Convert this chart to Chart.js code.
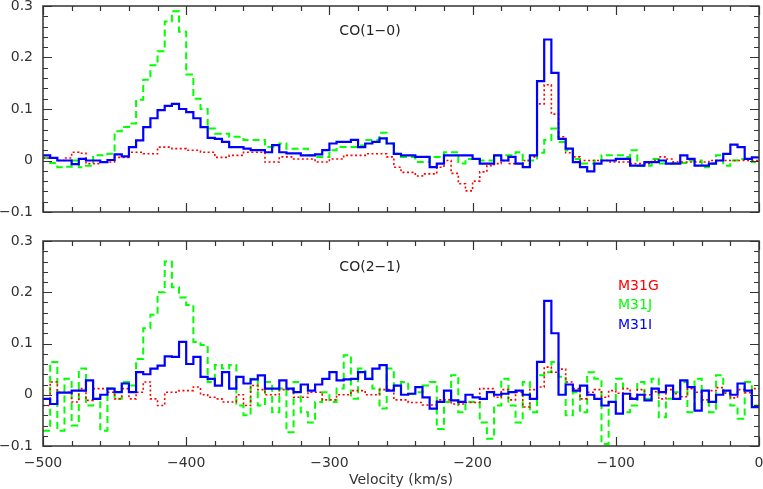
<!DOCTYPE html>
<html>
<head>
<meta charset="utf-8">
<script src="https://cdn.jsdelivr.net/npm/chart.js@4.4.1/dist/chart.umd.min.js"></script>
<style>
  html, body { margin: 0; padding: 0; background: #fff; }
  #wrap { position: relative; width: 763px; height: 489px; }
  canvas { position: absolute; left: 0; }
  #co10 { top: 0; }
  #co21 { top: 225px; }
</style>
</head>
<body>
<div id="wrap">
  <canvas id="co10" width="763" height="225" style="width:763px;height:225px"></canvas>
  <canvas id="co21" width="763" height="264" style="width:763px;height:264px"></canvas>
</div>
<script>
// velocity channels: start of first channel and channel width (km/s)
var channelStart = -500;
var channelWidth = 5;

var seriesNames = ['M31G', 'M31J', 'M31I'];
var seriesColors = ['#ff0000', '#00ff00', '#0000ff'];

var xTickValues = [-500, -400, -300, -200, -100, 0];
var xTickLabels = ['\u2212500', '\u2212400', '\u2212300', '\u2212200', '\u2212100', '0'];
var yTickValues = [-0.1, 0, 0.1, 0.2, 0.3];
var yTickLabels = ['\u22120.1', '0', '0.1', '0.2', '0.3'];

// CO(1-0), K, one value per channel from -500 to -5 km/s
var co10_M31G = [
  0.005, 0.005, 0.0, 0.005, 0.016, 0.014, -0.006, -0.006, -0.003, -0.003,
  0.006, 0.006, 0.016, 0.016, 0.013, 0.013, 0.026, 0.026, 0.023, 0.023,
  0.02, 0.02, 0.016, 0.016, 0.006, 0.006, 0.01, 0.01, 0.016, 0.016,
  0.016, -0.003, -0.003, 0.007, 0.007, 0.003, 0.003, 0.003, -0.003, -0.003,
  0.003, 0.003, 0.01, 0.01, 0.01, 0.013, 0.013, 0.013, 0.007, -0.013,
  -0.023, -0.023, -0.03, -0.026, -0.026, -0.013, 0.0, -0.025, -0.045, -0.059,
  -0.04, -0.022, -0.01, -0.006, 0.0, -0.006, -0.006, 0.0, 0.007, 0.11,
  0.147, 0.09, 0.046, 0.015, 0.007, 0.0, 0.0, 0.0, 0.0, -0.003,
  -0.003, -0.003, -0.006, -0.006, -0.006, 0.0, 0.007, 0.003, -0.003, -0.003,
  -0.003, -0.003, -0.003, 0.0, 0.0, 0.0, 0.0, 0.0, 0.0, 0.0
];
var co10_M31J = [
  0.005, -0.005, -0.013, -0.012, 0.0, -0.013, -0.01, 0.01, 0.01, 0.013,
  0.057, 0.065, 0.072, 0.118, 0.157, 0.185, 0.212, 0.27, 0.29, 0.25,
  0.167, 0.12, 0.10, 0.062, 0.052, 0.052, 0.046, 0.046, 0.04, 0.04,
  0.04, 0.026, 0.026, 0.033, 0.023, 0.023, 0.023, 0.01, 0.007, 0.007,
  0.02, 0.026, 0.026, 0.026, 0.029, 0.04, 0.04, 0.054, 0.033, 0.013,
  0.007, 0.007, -0.003, -0.003, 0.007, 0.007, 0.016, 0.016, -0.006, 0.003,
  0.003, 0.0, 0.0, 0.01, 0.01, 0.01, 0.016, 0.0, 0.0, 0.015,
  0.04, 0.062, 0.036, 0.02, 0.003, -0.006, -0.006, 0.0, 0.01, 0.01,
  0.01, 0.007, 0.02, -0.01, -0.01, 0.003, -0.006, -0.006, -0.005, -0.005,
  0.0, 0.0, -0.013, -0.006, 0.01, -0.01, 0.0, 0.003, 0.003, -0.003
];
var co10_M31I = [
  0.01, 0.005, 0.0, 0.0, -0.007, 0.003, 0.0, 0.0, -0.003, 0.001,
  0.012, 0.008, 0.026, 0.039, 0.065, 0.082, 0.098, 0.106, 0.11, 0.1,
  0.094, 0.082, 0.065, 0.044, 0.042, 0.036, 0.026, 0.026, 0.023, 0.02,
  0.02, 0.016, 0.03, 0.016, 0.014, 0.014, 0.01, 0.01, 0.012, 0.02,
  0.033, 0.036, 0.036, 0.04, 0.026, 0.033, 0.036, 0.043, 0.033, 0.013,
  0.01, 0.01, 0.007, 0.007, -0.013, -0.006, 0.01, 0.01, 0.01, 0.01,
  0.003, -0.006, -0.006, 0.01, 0.0, 0.007, -0.006, -0.013, 0.01, 0.154,
  0.235, 0.17, 0.042, 0.023, -0.003, -0.013, -0.021, -0.006, 0.0, 0.0,
  0.003, 0.003, -0.01, -0.01, -0.003, -0.003, 0.0, -0.006, -0.006, 0.01,
  0.003, -0.01, -0.01, -0.006, 0.0, 0.013, 0.031, 0.026, 0.003, 0.006
];

// CO(2-1)
var co21_M31G = [
  -0.021, 0.025, 0.005, 0.005, -0.014, 0.012, -0.011, 0.012, 0.012, 0.005,
  -0.008, 0.012, -0.008, 0.005, 0.025, -0.008, -0.021, 0.005, 0.005, 0.008,
  0.008, 0.015, 0.0, -0.005, -0.008, -0.014, -0.014, 0.0, -0.021, 0.018,
  0.01, 0.0, 0.0, 0.01, 0.01, -0.005, -0.005, 0.005, 0.005, -0.01,
  -0.01, 0.0, 0.0, 0.008, 0.008, 0.0, 0.0, 0.01, 0.01, -0.01,
  -0.01, -0.015, -0.015, -0.02, -0.02, -0.01, -0.01, -0.018, -0.018, -0.015,
  -0.015, 0.012, 0.012, -0.005, 0.01, -0.01, 0.005, -0.024, 0.01, 0.015,
  0.054, 0.044, 0.05, 0.025, 0.012, -0.008, 0.005, 0.01, -0.005, 0.008,
  0.003, 0.012, -0.006, 0.01, 0.0, 0.006, -0.008, 0.01, 0.002, -0.004,
  0.012, 0.005, -0.01, 0.008, 0.014, 0.003, -0.006, 0.01, 0.004, 0.012
];
var co21_M31J = [
  -0.07, 0.064, -0.07, 0.031, -0.06, 0.051, -0.021, -0.008, -0.07, 0.012,
  -0.008, 0.025, 0.018, 0.07, 0.13, 0.156, 0.2, 0.26, 0.21, 0.19,
  0.175, 0.103, 0.097, 0.025, 0.058, 0.051, 0.058, -0.021, -0.04, 0.031,
  -0.021, 0.025, -0.034, 0.012, -0.073, 0.025, -0.034, -0.054, -0.014, 0.005,
  -0.014, 0.012, 0.077, -0.008, 0.051, 0.031, 0.012, -0.027, 0.051, 0.018,
  0.025, 0.002, 0.005, 0.018, 0.025, -0.067, -0.014, 0.038, -0.034, -0.014,
  -0.014, -0.054, -0.086, -0.021, 0.031, -0.021, -0.054, 0.025, -0.034, 0.038,
  0.044, 0.064, 0.035, -0.04, 0.005, -0.034, 0.044, 0.031, -0.096, -0.014,
  0.031, -0.034, -0.021, 0.025, -0.008, 0.031, -0.044, -0.008, 0.005, 0.025,
  -0.034, 0.031, -0.014, -0.034, 0.038, 0.005, -0.021, -0.047, 0.025, -0.021
];
var co21_M31I = [
  -0.008, -0.018, 0.004, 0.004, 0.008, 0.008, 0.028, -0.008, 0.0, 0.012,
  0.005, 0.022, 0.005, 0.044, 0.04, 0.051, 0.057, 0.075, 0.074, 0.103,
  0.06, 0.074, 0.035, 0.031, 0.018, 0.044, 0.012, 0.035, 0.022, 0.03,
  0.038, 0.012, 0.012, 0.028, 0.012, 0.005, 0.02, 0.008, 0.02, 0.031,
  0.044, 0.028, 0.03, 0.031, 0.044, 0.031, 0.051, 0.058, 0.008, 0.018,
  0.0, 0.002, 0.015, -0.005, -0.027, -0.014, 0.008, -0.011, -0.014, 0.0,
  -0.005, -0.008, 0.005, 0.0, 0.002, 0.005, 0.008, 0.0, -0.008, 0.064,
  0.183, 0.12, 0.0, 0.02, 0.008, 0.018, 0.0, -0.008, -0.021, -0.014,
  -0.037, 0.002, -0.008, 0.0, -0.011, 0.012, 0.005, 0.018, -0.008, 0.028,
  0.015, -0.031, 0.008, -0.014, 0.0, 0.008, 0.0, 0.022, 0.008, -0.024
];

var textFont = "'DejaVu Sans', sans-serif";
var textColor = '#333';

// one point per channel edge; last point closes the final channel
function channels(values) {
  var pts = values.map(function (y, i) {
    return { x: channelStart + i * channelWidth, y: y };
  });
  pts.push({ x: channelStart + values.length * channelWidth, y: values[values.length - 1] });
  return pts;
}

function datasets(red, green, blue) {
  return [
    { label: seriesNames[0], data: channels(red), borderColor: seriesColors[0],
      borderWidth: 1.6, borderDash: [2, 2.5], order: 1 },
    { label: seriesNames[1], data: channels(green), borderColor: seriesColors[1],
      borderWidth: 2, borderDash: [7, 4], order: 2 },
    { label: seriesNames[2], data: channels(blue), borderColor: seriesColors[2],
      borderWidth: 2.2, order: 0 }
  ];
}

// box, inward major/minor ticks, panel label and legend text
var framePlugin = {
  id: 'frame',
  afterDatasetsDraw: function (chart, args, opts) {
    var ctx = chart.ctx, a = chart.chartArea;
    var xs = chart.scales.x, ys = chart.scales.y;
    ctx.save();
    ctx.strokeStyle = '#333';
    ctx.lineWidth = 1.5;
    ctx.setLineDash([]);
    ctx.strokeRect(a.left, a.top, a.right - a.left, a.bottom - a.top);
    ctx.lineWidth = 1.2;
    ctx.beginPath();
    for (var v = -500; v <= 0; v += 20) {
      var px = Math.round(xs.getPixelForValue(v)) + 0.5;
      var len = v % 100 === 0 ? 9 : 5;
      ctx.moveTo(px, a.bottom); ctx.lineTo(px, a.bottom - len);
      ctx.moveTo(px, a.top); ctx.lineTo(px, a.top + len);
    }
    for (var k = -5; k <= 15; k++) {
      var py = Math.round(ys.getPixelForValue(k * 0.02)) + 0.5;
      var l = k % 5 === 0 ? 9 : 5;
      ctx.moveTo(a.left, py); ctx.lineTo(a.left + l, py);
      ctx.moveTo(a.right, py); ctx.lineTo(a.right - l, py);
    }
    ctx.stroke();

    ctx.font = '14px ' + textFont;
    ctx.textBaseline = 'middle';
    ctx.textAlign = 'center';
    ctx.fillStyle = '#222';
    ctx.fillText(opts.title, opts.titleX, opts.titleY);
    if (opts.legend) {
      ctx.textAlign = 'left';
      chart.data.datasets.forEach(function (ds, i) {
        ctx.fillStyle = ds.borderColor;
        ctx.fillText(ds.label, opts.legendX, opts.legendY + i * 19.5);
      });
    }
    ctx.restore();
  }
};

function makeChart(id, data, showX, pad, label) {
  return new Chart(document.getElementById(id), {
    type: 'line',
    data: { datasets: data },
    options: {
      responsive: false,
      animation: false,
      devicePixelRatio: 1,
      layout: { padding: pad },
      elements: {
        line: { stepped: 'before', fill: false, tension: 0, borderJoinStyle: 'miter' },
        point: { radius: 0, hoverRadius: 0 }
      },
      plugins: {
        legend: { display: false },
        tooltip: { enabled: false },
        frame: label
      },
      scales: {
        x: {
          type: 'linear', min: -500, max: 0, display: showX,
          grid: { display: false, drawTicks: false },
          border: { display: false },
          afterBuildTicks: function (s) { s.ticks = xTickValues.map(function (v) { return { value: v }; }); },
          afterFit: function (s) { s.height = showX ? 43 : 0; s.paddingLeft = 0; s.paddingRight = 0; },
          ticks: {
            autoSkip: false, maxRotation: 0, padding: 9, color: textColor,
            font: { family: textFont, size: 14 },
            callback: function (v, i) { return xTickLabels[i]; }
          },
          title: {
            display: true, text: 'Velocity (km/s)', color: textColor,
            font: { family: textFont, size: 14 }, padding: 0
          }
        },
        y: {
          type: 'linear', min: -0.1, max: 0.3,
          grid: { display: false, drawTicks: false },
          border: { display: false },
          afterBuildTicks: function (s) { s.ticks = yTickValues.map(function (v) { return { value: v }; }); },
          afterFit: function (s) { s.width = 43; s.paddingTop = 0; s.paddingBottom = 0; },
          ticks: {
            padding: 10, color: textColor,
            font: { family: textFont, size: 14 },
            callback: function (v, i) { return yTickLabels[i]; }
          }
        }
      }
    },
    plugins: [framePlugin]
  });
}

makeChart('co10', datasets(co10_M31G, co10_M31J, co10_M31I), false,
  { top: 6, right: 4, bottom: 13, left: 0 },
  { title: 'CO(1\u22120)', titleX: 370, titleY: 31, legend: false });

makeChart('co21', datasets(co21_M31G, co21_M31J, co21_M31I), true,
  { top: 16, right: 4, bottom: 0, left: 0 },
  { title: 'CO(2\u22121)', titleX: 370, titleY: 42, legend: true, legendX: 618, legendY: 61 });
</script>
</body>
</html>
